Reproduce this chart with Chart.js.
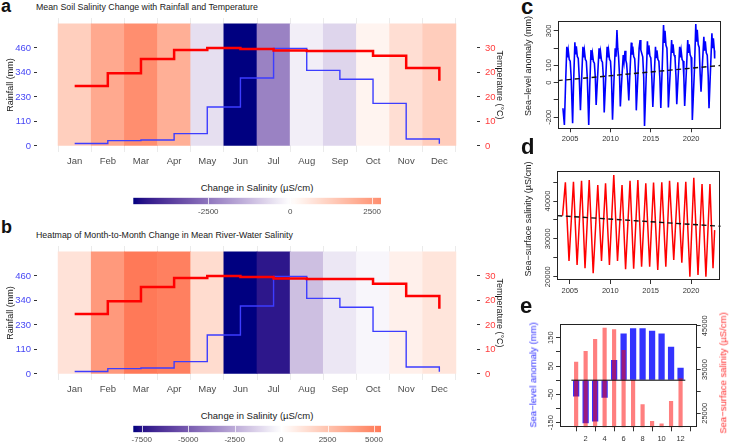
<!DOCTYPE html>
<html>
<head>
<meta charset="utf-8">
<script src="https://cdn.jsdelivr.net/npm/chart.js@4.4.1/dist/chart.umd.min.js"></script>
<style>
  html, body { margin:0; padding:0; background:#fff; }
  body { position:relative; width:730px; height:446px; overflow:hidden; font-family:"Liberation Sans", Arial, sans-serif; }
  canvas, .txt { position:absolute; }
  .txt { white-space:nowrap; line-height:1; }
  .lbl { font-weight:bold; color:#111; }
  .ttl { font-size:8.8px; color:#1a1a1a; }
  .cbt { font-size:9.5px; color:#1a1a1a; transform:translateX(-50%); }
  .vt { transform:translate(-50%,-50%) rotate(-90deg); }
</style>
</head>
<body>
<div class="txt lbl" style="left:1px;top:-3.5px;font-size:18px">a</div>
<div class="txt ttl" style="left:36px;top:3px">Mean Soil Salinity Change with Rainfall and Temperature</div>
<canvas id="heatA" width="510" height="172" style="left:0;top:0"></canvas>
<div class="txt cbt" style="left:257px;top:183px">Change in Salinity (µS/cm)</div>
<canvas id="barA" width="288" height="34" style="left:113px;top:190px"></canvas>

<div class="txt lbl" style="left:1px;top:218px;font-size:18px">b</div>
<div class="txt ttl" style="left:36px;top:231px">Heatmap of Month-to-Month Change in Mean River-Water Salinity</div>
<canvas id="heatB" width="510" height="172" style="left:0;top:228px"></canvas>
<div class="txt cbt" style="left:257px;top:411px">Change in Salinity (µS/cm)</div>
<canvas id="barB" width="288" height="28" style="left:113px;top:418px"></canvas>

<div class="txt lbl" style="left:521px;top:-3.6px;font-size:22px">c</div>
<canvas id="seaC" width="210" height="150" style="left:520px;top:0"></canvas>
<div class="txt vt" style="left:528px;top:66px;font-size:9px;color:#222">Sea−level anomaly (mm)</div>

<div class="txt lbl" style="left:521px;top:136.4px;font-size:22px">d</div>
<canvas id="salD" width="210" height="145" style="left:520px;top:155px"></canvas>
<div class="txt vt" style="left:528px;top:219px;font-size:9px;color:#222">Sea−surface salinity (µS/cm)</div>

<div class="txt lbl" style="left:520px;top:294.7px;font-size:22px">e</div>
<canvas id="climE" width="210" height="146" style="left:520px;top:300px"></canvas>
<div class="txt vt" style="left:533.3px;top:375px;font-size:9.5px;color:#3030ff">Sea−level anomaly (mm)</div>
<div class="txt vt" style="left:723px;top:373px;font-size:9.5px;color:#ff3030">Sea−surface salinity (µS/cm)</div>

<script>
// ---------- data ----------
const MONTHS = ['Jan','Feb','Mar','Apr','May','Jun','Jul','Aug','Sep','Oct','Nov','Dec'];
const MONTH_NUM = [1,2,3,4,5,6,7,8,9,10,11,12];
const RAINFALL = [12, 25, 28, 58, 183, 319, 458, 355, 313, 200, 33, 10];          // mm
const TEMPERATURE = [18.4, 22.3, 26.6, 29.4, 30.0, 29.7, 29.2, 29.1, 29.1, 27.6, 23.9, 20.0]; // °C
const SOIL_SAL_CHANGE = [1210, 2120, 2770, 1980, -560, -4790, -2270, -300, -740, 280, 820, 1250];
const RIVER_SAL_CHANGE = [1190, 4170, 5380, 5100, 1480, -7960, -7300, -1890, -700, -270, 620, 1100];
const TILE_TOP = 573;
const RAIN_TICKS = [0, 115, 230, 345, 460];
const RAIN_TICK_LABELS = ['0', '110', '230', '340', '460'];
const TEMP_TICKS = [0, 7.5, 15, 22.5, 30];
const TEMP_TICK_LABELS = ['0', '10', '20', '20', '30'];
const CB_TICKS_A = [-2500, 0, 2500];
const CB_TICKS_B = [-7500, -5000, -2500, 0, 2500, 5000];

// monthly sea-level anomaly series (decimal year, mm)
const SL_TIME = [
  2004.10,2004.28,2004.42,2004.58,2004.66,2004.76,2004.88,2005.00,2005.12,
  2005.30,2005.42,2005.58,2005.66,2005.76,2005.88,2006.00,2006.12,
  2006.27,2006.42,2006.58,2006.66,2006.76,2006.88,2007.00,2007.12,
  2007.30,2007.42,2007.58,2007.66,2007.76,2007.88,2008.00,2008.12,
  2008.22,2008.40,2008.58,2008.66,2008.76,2008.88,2009.00,2009.12,
  2009.22,2009.40,2009.58,2009.66,2009.76,2009.88,2010.00,2010.12,
  2010.25,2010.42,2010.58,2010.68,2010.80,2010.90,2011.00,2011.12,
  2011.22,2011.40,2011.58,2011.68,2011.80,2011.90,2012.00,2012.12,
  2012.27,2012.42,2012.58,2012.66,2012.76,2012.88,2013.00,2013.12,
  2013.20,2013.40,2013.55,2013.67,2013.76,2013.88,2014.00,2014.12,
  2014.22,2014.40,2014.58,2014.66,2014.76,2014.88,2015.00,2015.12,
  2015.25,2015.42,2015.58,2015.66,2015.76,2015.88,2016.00,2016.12,
  2016.24,2016.42,2016.58,2016.66,2016.76,2016.88,2017.00,2017.10,
  2017.18,2017.40,2017.58,2017.66,2017.76,2017.88,2018.00,2018.12,
  2018.22,2018.40,2018.58,2018.66,2018.76,2018.88,2019.00,2019.10,
  2019.20,2019.40,2019.58,2019.66,2019.76,2019.88,2020.00,2020.08,
  2020.15,2020.40,2020.58,2020.66,2020.76,2020.88,2021.00,2021.12,
  2021.23,2021.40,2021.58,2021.66,2021.76,2021.88,2022.00,2022.12,
  2022.22,2022.40,2022.58,2022.66,2022.76,2022.88,2022.92
];
const SL_MM = [
  -148,-245,-18,208,146,187,135,125,31,
  -235,0,234,164,211,152,140,35,
  -160,24,208,146,187,135,125,31,
  -245,-28,189,132,170,123,113,28,
  -129,35,199,139,179,129,119,30,
  -172,18,208,146,187,135,125,31,
  -215,0,200,150,305,200,150,40,
  -137,20,160,120,185,130,110,30,
  -103,65,232,162,209,151,139,35,
  -160,40,200,247,190,170,150,30,
  -251,-6,240,168,216,156,144,36,
  -140,34,208,146,187,135,125,31,
  -147,94,334,234,301,217,200,50,
  -144,52,247,173,222,161,148,37,
  -125,42,208,146,187,135,125,31,
  -135,56,247,173,222,161,148,37,
  -216,62,340,238,306,221,204,51,
  -52,107,266,186,239,173,160,40,
  -148,69,286,200,257,186,140
];
const SL_TREND_X = [2003.45, 2023.67];
const SL_TREND_Y = [12, 100];

// sea-surface salinity series (decimal year, µS/cm): peaks and troughs
const SS_TIME = [
  2004.10,2004.45,2004.90,2005.45,2005.90,2006.45,2006.88,2007.40,2007.89,
  2008.46,2008.92,2009.42,2009.90,2010.44,2010.90,2011.46,2011.90,
  2012.45,2012.90,2013.42,2013.88,2014.40,2014.88,2015.36,2015.88,
  2016.38,2016.88,2017.34,2017.86,2018.36,2018.86,2019.35,2019.86,
  2020.34,2020.86,2021.36,2021.84,2022.34,2022.72,2022.92
];
const SS_USCM = [
  36100,44930,24150,45100,23090,45360,22220,45550,20900,
  44230,24150,44670,23090,46870,24150,44230,21950,
  45360,22100,45550,22640,44670,22640,44850,21770,
  44930,22640,45360,24410,44930,23700,45100,20000,
  46160,20450,44490,20000,44490,22220,32300
];
const SS_TREND_X = [2003.45, 2023.67];
const SS_TREND_Y = [36140, 33320];
const YEAR_TICKS = [2005, 2010, 2015, 2020];

// monthly climatology (panel e)
const SL_CLIM = [-58, -152, -146, -62, 71, 165, 183, 183, 175, 165, 118, 44];
const SS_CLIM = [36780, 39220, 41960, 44540, 44170, 39450, 32600, 27050, 23240, 22700, 27810, 32990];
const E_TICKS = [2, 4, 6, 8, 10, 12];

// ---------- axis limits ----------
const RAIN_MIN = -28.2, RAIN_MAX = 600.8;
const YEAR_MIN = 2003.45, YEAR_MAX = 2023.67;
const E_X_MIN = 0.5, E_X_MAX = 12.5;

Chart.defaults.animation = false;
Chart.defaults.responsive = false;
Chart.defaults.events = [];
Chart.defaults.font.family = '"Liberation Sans", Arial, sans-serif';
Chart.defaults.plugins.legend.display = false;
Chart.defaults.plugins.tooltip.enabled = false;

// ---------- colour scale (navy - white - red, Lab) ----------
function toLin(c) { c /= 255; return c <= 0.04045 ? c / 12.92 : Math.pow((c + 0.055) / 1.055, 2.4); }
function toSrgb(v) { v = v <= 0.0031308 ? 12.92 * v : 1.055 * Math.pow(v, 1 / 2.4) - 0.055; return Math.round(Math.min(1, Math.max(0, v)) * 255); }
function rgbToLab(rgb) {
  const r = toLin(rgb[0]), g = toLin(rgb[1]), b = toLin(rgb[2]);
  const X = (0.4124*r + 0.3576*g + 0.1805*b) / 0.95047, Y = 0.2126*r + 0.7152*g + 0.0722*b, Z = (0.0193*r + 0.1192*g + 0.9505*b) / 1.08883;
  const f = t => t > 0.008856 ? Math.cbrt(t) : 7.787*t + 16/116;
  return [116*f(Y) - 16, 500*(f(X) - f(Y)), 200*(f(Y) - f(Z))];
}
function labToRgb(lab) {
  const fy = (lab[0] + 16) / 116, fx = fy + lab[1] / 500, fz = fy - lab[2] / 200;
  const fi = t => t*t*t > 0.008856 ? t*t*t : (t - 16/116) / 7.787;
  const X = fi(fx) * 0.95047, Y = fi(fy), Z = fi(fz) * 1.08883;
  const r = 3.2406*X - 1.5372*Y - 0.4986*Z, g = -0.9689*X + 1.8758*Y + 0.0415*Z, b = 0.0557*X - 0.2040*Y + 1.0570*Z;
  return 'rgb(' + toSrgb(r) + ',' + toSrgb(g) + ',' + toSrgb(b) + ')';
}
const LAB_LOW = rgbToLab([0, 0, 128]), LAB_MID = rgbToLab([255, 255, 255]), LAB_HIGH = rgbToLab([255, 0, 0]);
function salColor(v, lim) {
  const t = Math.min(1, Math.abs(v) / lim);
  const end = v < 0 ? LAB_LOW : LAB_HIGH;
  return labToRgb(LAB_MID.map((m, i) => m + (end[i] - m) * t));
}

// ---------- plugins ----------
const boxPlugin = {
  id: 'box',
  afterDatasetsDraw(chart) {
    const a = chart.chartArea, c = chart.ctx;
    c.save();
    c.strokeStyle = '#222'; c.lineWidth = 1;
    c.strokeRect(Math.round(a.left) + 0.5, Math.round(a.top) + 0.5, Math.round(a.right - a.left) - 1, Math.round(a.bottom - a.top) - 1);
    c.restore();
  }
};

// y tick labels written parallel to the axis (base R style)
const rotTicks = {
  id: 'rotTicks',
  afterDraw(chart, args, opts) {
    const c = chart.ctx, area = chart.chartArea;
    (opts.axes || []).forEach(ax => {
      const sc = chart.scales[ax.id];
      const x = ax.side === 'right' ? area.right + ax.dx : area.left - ax.dx;
      c.save();
      c.font = '7.5px "Liberation Sans", Arial, sans-serif';
      c.fillStyle = '#333'; c.textAlign = 'center'; c.textBaseline = 'middle';
      sc.ticks.forEach(t => {
        if (!ax.show.includes(t.value)) return;
        c.save();
        c.translate(x, sc.getPixelForValue(t.value));
        c.rotate(-Math.PI / 2);
        c.fillText(String(t.value), 0, 0);
        c.restore();
      });
      c.restore();
    });
  }
};

const cbTicks = {
  id: 'cbTicks',
  afterDatasetsDraw(chart, args, opts) {
    const c = chart.ctx, a = chart.chartArea, sc = chart.scales.x;
    c.save();
    c.strokeStyle = 'rgba(255,255,255,0.75)'; c.lineWidth = 1;
    (opts.ticks || []).forEach(v => {
      const x = Math.round(sc.getPixelForValue(v)) + 0.5;
      c.beginPath(); c.moveTo(x, a.top); c.lineTo(x, a.bottom); c.stroke();
    });
    c.restore();
  }
};

// ---------- panels a & b ----------
function heatPanel(id, change) {
  const lim = Math.max(...change.map(Math.abs));
  return new Chart(document.getElementById(id), {
    type: 'bar',
    data: {
      datasets: [
        { type: 'line', yAxisID: 'yT', data: MONTH_NUM.map((m, i) => ({x: m, y: TEMPERATURE[i]})),
          stepped: true, borderColor: '#ff0000', borderWidth: 2.5, pointRadius: 0, order: 1 },
        { type: 'line', yAxisID: 'yR', data: MONTH_NUM.map((m, i) => ({x: m, y: RAINFALL[i]})),
          stepped: true, borderColor: '#3d3dff', borderWidth: 1.4, pointRadius: 0, order: 2 },
        { type: 'bar', yAxisID: 'yR', data: MONTH_NUM.map(m => ({x: m, y: [0, TILE_TOP]})),
          backgroundColor: change.map(v => salColor(v, lim)), barPercentage: 1, categoryPercentage: 1, order: 3 }
      ]
    },
    options: {
      layout: { padding: { top: 18 } },
      scales: {
        x: { type: 'linear', min: 0.417, max: 12.583,
             afterBuildTicks: s => { s.ticks = MONTH_NUM.map(v => ({value: v})); },
             ticks: { callback: v => MONTHS[v - 1], color: '#4d4d4d', font: {size: 9.5}, padding: 4, autoSkip: false, maxRotation: 0 },
             grid: { color: '#ebebeb', drawTicks: false }, border: { display: false },
             afterFit: s => { s.height = 20; } },
        yR: { position: 'left', min: RAIN_MIN, max: RAIN_MAX,
              afterBuildTicks: s => { s.ticks = RAIN_TICKS.map(v => ({value: v})); },
              ticks: { callback: (v, i) => RAIN_TICK_LABELS[i], color: '#4646f5', font: {size: 9.5}, padding: 3, autoSkip: false },
              grid: { drawOnChartArea: false, tickLength: 3, color: '#333' }, border: { display: false },
              title: { display: true, text: 'Rainfall (mm)', color: '#1a1a1a', font: {size: 9}, padding: {top: 5.5, bottom: 0} },
              afterFit: s => { s.width = 37; } },
        yT: { position: 'right', min: RAIN_MIN * 30 / 460, max: RAIN_MAX * 30 / 460,
              afterBuildTicks: s => { s.ticks = TEMP_TICKS.map(v => ({value: v})); },
              ticks: { callback: (v, i) => TEMP_TICK_LABELS[i], color: '#ff3c3c', font: {size: 9.5}, padding: 5, autoSkip: false },
              grid: { drawOnChartArea: false, tickLength: 3, color: '#333' }, border: { display: false },
              title: { display: true, text: 'Temperature (°C)', color: '#1a1a1a', font: {size: 9}, padding: {top: 5, bottom: 0} },
              afterFit: s => { s.width = 33; } }
      }
    }
  });
}

function colorBar(id, change, ticks) {
  const lo = Math.min(...change), hi = Math.max(...change), lim = Math.max(-lo, hi);
  return new Chart(document.getElementById(id), {
    type: 'bar',
    data: {
      labels: [''],
      datasets: [{
        data: [[lo, hi]], barPercentage: 1, categoryPercentage: 1,
        backgroundColor: ctx => {
          const a = ctx.chart.chartArea;
          if (!a) return '#fff';
          const g = ctx.chart.ctx.createLinearGradient(a.left, 0, a.right, 0);
          for (let k = 0; k <= 40; k++) g.addColorStop(k / 40, salColor(lo + (hi - lo) * k / 40, lim));
          return g;
        }
      }]
    },
    options: {
      indexAxis: 'y',
      layout: { padding: { left: 20.3, right: 20, top: 7.7 } },
      scales: {
        y: { display: false },
        x: { type: 'linear', min: lo, max: hi,
             afterBuildTicks: s => { s.ticks = ticks.map(v => ({value: v})); },
             ticks: { callback: v => String(v), color: '#4d4d4d', font: {size: 8}, padding: 3, autoSkip: false, maxRotation: 0 },
             grid: { display: false, drawTicks: false }, border: { display: false },
             afterFit: s => { s.height = ctxHeight(s) ; } }
      },
      plugins: { cbTicks: { ticks } }
    },
    plugins: [cbTicks]
  });
}
// x-axis strip below the 6.6 px colour bar fills the rest of the canvas
function ctxHeight(s) { return s.chart.height - 7.7 - 6.6; }

heatPanel('heatA', SOIL_SAL_CHANGE);
colorBar('barA', SOIL_SAL_CHANGE, CB_TICKS_A);
heatPanel('heatB', RIVER_SAL_CHANGE);
colorBar('barB', RIVER_SAL_CHANGE, CB_TICKS_B);

// ---------- panels c & d ----------
function yearAxis(h) {
  return { type: 'linear', min: YEAR_MIN, max: YEAR_MAX,
    afterBuildTicks: s => { s.ticks = YEAR_TICKS.map(v => ({value: v})); },
    ticks: { callback: v => String(v), color: '#333', font: {size: 7.5}, padding: 2, autoSkip: false, maxRotation: 0 },
    grid: { drawOnChartArea: false, tickLength: 4, color: '#333' }, border: { display: false },
    afterFit: s => { s.height = h; } };
}
function valueAxis(min, max, ticks, width, pos) {
  return { type: 'linear', position: pos || 'left', min, max,
    afterBuildTicks: s => { s.ticks = ticks.map(v => ({value: v})); },
    ticks: { display: false },
    grid: { drawOnChartArea: false, tickLength: 4, color: '#333' }, border: { display: false },
    afterFit: s => { s.width = width; } };
}

new Chart(document.getElementById('seaC'), {
  type: 'line',
  data: { datasets: [
    { data: SL_TREND_X.map((x, i) => ({x, y: SL_TREND_Y[i]})), borderColor: '#111', borderWidth: 1.4, borderDash: [5, 3.5], pointRadius: 0, order: 0 },
    { data: SL_TIME.map((x, i) => ({x, y: SL_MM[i]})), borderColor: '#0000ff', borderWidth: 1.6, pointRadius: 0, order: 1 }
  ] },
  options: {
    layout: { padding: { top: 20.7, right: 9.3 } },
    scales: { x: yearAxis(21.7), y: valueAxis(-264, 359, [-200, -100, 0, 100, 200, 300], 37.7) },
    plugins: { rotTicks: { axes: [{ id: 'y', side: 'left', dx: 9.2, show: [-200, 0, 100, 300] }] } }
  },
  plugins: [boxPlugin, rotTicks]
});

new Chart(document.getElementById('salD'), {
  type: 'line',
  data: { datasets: [
    { data: SS_TREND_X.map((x, i) => ({x, y: SS_TREND_Y[i]})), borderColor: '#111', borderWidth: 1.4, borderDash: [5, 3.5], pointRadius: 0, order: 0 },
    { data: SS_TIME.map((x, i) => ({x, y: SS_USCM[i]})), borderColor: '#ff0000', borderWidth: 1.5, pointRadius: 0, order: 1 }
  ] },
  options: {
    layout: { padding: { top: 16, right: 9.3 } },
    scales: { x: yearAxis(20), y: valueAxis(19130, 47930, [20000, 25000, 30000, 35000, 40000, 45000], 37.3) },
    plugins: { rotTicks: { axes: [{ id: 'y', side: 'left', dx: 9, show: [20000, 30000, 40000] }] } }
  },
  plugins: [boxPlugin, rotTicks]
});

// ---------- panel e ----------
new Chart(document.getElementById('climE'), {
  type: 'bar',
  data: { datasets: [
    { type: 'line', yAxisID: 'yL', data: [{x: E_X_MIN, y: 0}, {x: E_X_MAX, y: 0}], borderColor: '#000', borderWidth: 1, pointRadius: 0, order: 0 },
    { type: 'bar', yAxisID: 'yR', data: MONTH_NUM.map((m, i) => ({x: m, y: SS_CLIM[i]})), backgroundColor: 'rgba(255,0,0,0.5)',
      barPercentage: 0.44, categoryPercentage: 1, grouped: false, order: 1 },
    { type: 'bar', yAxisID: 'yL', data: MONTH_NUM.map((m, i) => ({x: m, y: SL_CLIM[i]})), backgroundColor: 'rgba(0,0,255,0.8)',
      barPercentage: 0.66, categoryPercentage: 1, grouped: false, order: 2 }
  ] },
  options: {
    layout: { padding: { top: 24 } },
    scales: {
      x: { type: 'linear', min: E_X_MIN, max: E_X_MAX,
           afterBuildTicks: s => { s.ticks = E_TICKS.map(v => ({value: v})); },
           ticks: { callback: v => String(v), color: '#333', font: {size: 7.5}, padding: 3, autoSkip: false, maxRotation: 0 },
           grid: { drawOnChartArea: false, tickLength: 4, color: '#333' }, border: { display: false },
           afterFit: s => { s.height = 18.7; } },
      yL: valueAxis(-166.3, 198.4, [-150, -100, -50, 0, 50, 100, 150], 40, 'left'),
      yR: valueAxis(21804, 45388, [25000, 30000, 35000, 40000, 45000], 33.3, 'right')
    },
    plugins: { rotTicks: { axes: [
      { id: 'yL', side: 'left', dx: 9.5, show: [-150, -50, 50, 150] },
      { id: 'yR', side: 'right', dx: 8, show: [25000, 35000, 45000] }
    ] } }
  },
  plugins: [boxPlugin, rotTicks]
});
</script>
</body>
</html>
